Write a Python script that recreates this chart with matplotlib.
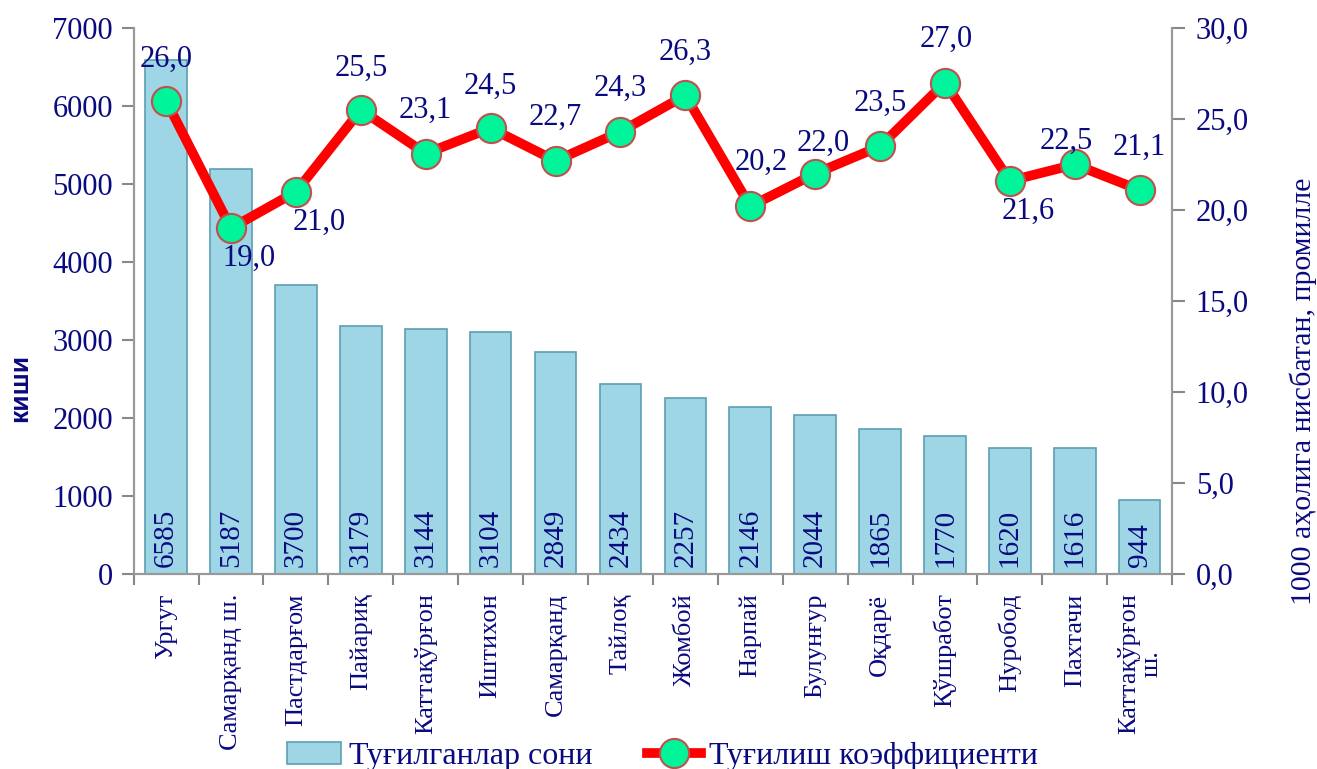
import matplotlib.pyplot as plt
import numpy as np

# data
districts = ['Ургут', 'Самарқанд ш.', 'Пастдарғом', 'Пайариқ', 'Каттақўрғон',
             'Иштихон', 'Самарқанд', 'Тайлоқ', 'Жомбой', 'Нарпай', 'Булунғур',
             'Оқдарё', 'Қўшработ', 'Нуробод', 'Пахтачи', 'Каттақўрғон\nш.']
births = [6585, 5187, 3700, 3179, 3144, 3104, 2849, 2434, 2257, 2146, 2044,
          1865, 1770, 1620, 1616, 944]
rate = [26.0, 19.0, 21.0, 25.5, 23.1, 24.5, 22.7, 24.3, 26.3, 20.2, 22.0,
        23.5, 27.0, 21.6, 22.5, 21.1]

# label offsets (points) for the rate labels
lbl_off = [(0, 30), (13, -22), (17, -22), (0, 30), (0, 31), (0, 30), (0, 31),
           (0, 31), (0, 31), (8, 32), (6, 22), (0, 31), (1, 31), (13, -22),
           (-6, 17), (0, 31)]

navy = '#0a0a80'
plt.rcParams['font.family'] = ['Liberation Serif', 'DejaVu Serif']

fig = plt.figure(figsize=(13.17, 7.69), dpi=100)
ax = fig.add_axes([0.1015, 0.2536, 0.7885, 0.71])
x = np.arange(len(districts))

ax.bar(x, births, width=0.64, color='#9fd6e6', edgecolor='#5b9fb2',
       linewidth=1.2, label='Туғилганлар сони', zorder=2)
for xi, b in zip(x, births):
    ax.text(xi, 90, str(b), rotation=90, ha='center', va='bottom',
            fontsize=21, color=navy, zorder=3)

ax.set_xlim(-0.5, len(districts) - 0.5)
ax.set_ylim(0, 7000)
ax.set_yticks(range(0, 7001, 1000))
ax.tick_params(axis='y', labelsize=22, labelcolor=navy, color='#888888',
               length=9, width=1.5, pad=6)
ax.set_xticks(x)
ax.set_xticklabels(districts, rotation=90, fontsize=19, color=navy,
                   va='top', ha='center', linespacing=1.0)
ax.tick_params(axis='x', length=0, pad=14)
ax.set_xticks(np.arange(-0.5, len(districts)), minor=True)
ax.tick_params(axis='x', which='minor', length=8, width=1.5, color='#888888')
fig.text(20 / 1317, 1 - 388 / 769, 'киши', rotation=90, ha='center',
         va='center', fontsize=19, fontweight='bold', color=navy,
         family='Liberation Sans')
ax.spines['top'].set_visible(False)
for s in ['left', 'bottom', 'right']:
    ax.spines[s].set_color('#999999')
    ax.spines[s].set_linewidth(1.5)

ax2 = ax.twinx()
ax2.plot(x, rate, color='#ff0000', linewidth=7, marker='o', markersize=21,
         markerfacecolor='#00f59a', markeredgecolor='#c0504d',
         markeredgewidth=1.5, label='Туғилиш коэффициенти', zorder=4)
for xi, r, off in zip(x, rate, lbl_off):
    ax2.annotate(f'{r:.1f}'.replace('.', ','), (xi, r), xytext=off,
                 textcoords='offset points', ha='center', va='center',
                 fontsize=22, color=navy, zorder=5)
ax2.set_ylim(0, 30)
ax2.set_yticks(range(0, 31, 5))
ax2.set_yticklabels([f'{v:.1f}'.replace('.', ',') for v in range(0, 31, 5)])
ax2.tick_params(axis='y', labelsize=22, labelcolor=navy, color='#888888',
                length=9, width=1.5, pad=8)
fig.text(1303 / 1317, 1 - 391 / 769, '1000 аҳолига нисбатан, промилле',
         rotation=90, ha='center', va='center', fontsize=21.5, color=navy)
ax2.spines['top'].set_visible(False)
for s in ['left', 'bottom', 'right']:
    ax2.spines[s].set_color('#999999')
    ax2.spines[s].set_linewidth(1.5)

h1, l1 = ax.get_legend_handles_labels()
h2, l2 = ax2.get_legend_handles_labels()
fig.legend(h1 + h2, l1 + l2, loc='lower center', bbox_to_anchor=(0.503, -0.04),
           ncol=2, frameon=False, fontsize=23, labelcolor=navy,
           handlelength=1.7, handletextpad=0.25, columnspacing=1.7)

fig.savefig('out.png', dpi=100)
